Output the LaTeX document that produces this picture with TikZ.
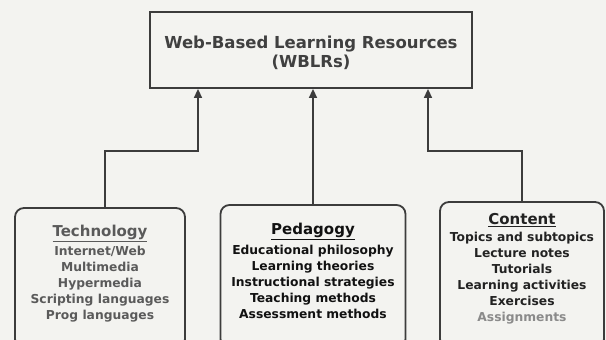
\documentclass[tikz,border=0pt]{standalone}
\usepackage{fontspec}
\setmainfont{DejaVu Sans}
\usetikzlibrary{arrows.meta}
\definecolor{bg}{HTML}{F3F3F0}
\definecolor{edge}{HTML}{3C3C3C}
\definecolor{toptext}{HTML}{404040}
\definecolor{techtext}{HTML}{5A5A5A}
\definecolor{pedtext}{HTML}{111111}
\definecolor{context}{HTML}{222222}
\definecolor{faint}{HTML}{8A8A8A}
\tikzset{
  boxa/.style={draw=edge, line width=1.8pt, rounded corners=9pt, inner sep=0pt},
  topbox/.style={draw=edge, line width=1.8pt, inner sep=0pt, minimum width=322pt, minimum height=76pt},
  conn/.style={draw=edge, line width=1.6pt, -{Triangle[length=9pt,width=8pt]}},
  txt/.style={align=center, inner sep=0pt, anchor=north, font=\bfseries\fontsize{12.3}{16}\selectfont},
  head/.style={inner sep=0pt, font=\bfseries\fontsize{15}{18}\selectfont}
}
\begin{document}
\begin{tikzpicture}[x=1pt,y=-1pt]
\fill[bg] (0,0) rectangle (606,340);
\useasboundingbox (0,0) rectangle (606,340);
% top box
\node[topbox] (wblr) at (311,50) {};
\node[text=toptext, align=center, inner sep=0pt, font=\bfseries\fontsize{16.5}{19}\selectfont] (wblrt) at (311,53) {Web-Based Learning Resources\\(WBLRs)};
% lower boxes
\node[boxa, minimum width=170pt, minimum height=140pt] (tech) at (100,278) {};
\node[boxa, minimum width=185pt, minimum height=143pt] (ped) at (313,276.5) {};
\node[boxa, minimum width=164pt, minimum height=146pt] (cont) at (522,275) {};
% headings
\node[head, text=techtext] (techh) at (100,233) {\underline{Technology}};
\node[head, text=pedtext] (pedh) at (313,231) {\underline{Pedagogy}};
\node[head, text=context] (conth) at (522,220.5) {\underline{Content}};
% texts
\node[txt, text=techtext] (techt) at (100,245.5) {Internet/Web\\Multimedia\\Hypermedia\\Scripting languages\\Prog languages};
\node[txt, text=pedtext] (pedt) at (313,244.5) {Educational philosophy\\Learning theories\\Instructional strategies\\Teaching methods\\Assessment methods};
\node[txt, text=context] (contt) at (522,231.5) {Topics and subtopics\\Lecture notes\\Tutorials\\Learning activities\\Exercises\\\textcolor{faint}{Assignments}};
% connectors
\coordinate (jl) at (198,151);
\coordinate (jr) at (428,151);
\draw[conn] ([xshift=5pt]tech.north) |- (jl) -- (wblr.south -| jl);
\draw[conn] (ped.north) -- (wblr.south -| ped.north);
\draw[conn] (cont.north) |- (jr) -- (wblr.south -| jr);
\end{tikzpicture}
\end{document}
